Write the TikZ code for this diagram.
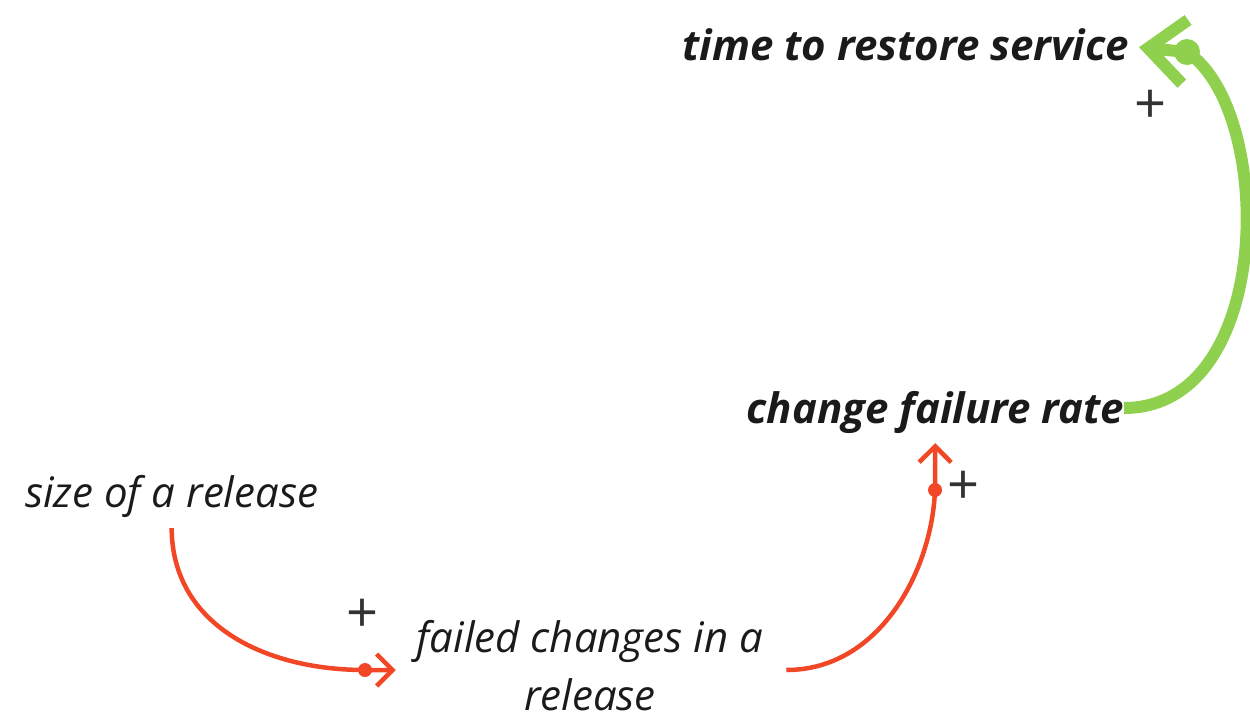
\documentclass[tikz,border=0pt]{standalone}
\usepackage{fontspec}
\setmainfont{Open Sans}
\usetikzlibrary{arrows.meta}
\definecolor{loopgreen}{HTML}{8FD14F}
\definecolor{linkred}{HTML}{F24726}
\definecolor{inktext}{HTML}{1A1A1A}
\definecolor{signgray}{HTML}{333333}
\begin{document}
\begin{tikzpicture}[x=1pt,y=-1pt,
  var/.style={inner sep=0pt, outer sep=0pt, text=inktext,
    font=\fontsize{42}{58}\selectfont\itshape},
  keyvar/.style={var, font=\fontsize{42}{58}\selectfont\bfseries\itshape},
  sign/.style={inner sep=0pt, text=signgray, font=\fontsize{56}{56}\selectfont},
  greenlink/.style={draw=loopgreen, line width=12pt,
    -{Straight Barb[sharp, length=37pt, width=64pt]}},
  redlink/.style={draw=linkred, line width=4.5pt,
    -{Straight Barb[sharp, length=16pt, width=32pt]}},
]
\useasboundingbox (0,0) rectangle (1250,723);

% variables
\node[keyvar, anchor=base east] (trs) at (1129,60) {time to restore service};
\node[keyvar, anchor=base east] (cfr) at (1124,423) {change failure rate};
\node[var, anchor=base west] (size) at (25,507) {size of a release};
\node[var, align=center, anchor=base] (failed) at (590,710) {failed changes in a\\release};

% polarity signs
\node[sign] (p1) at (1150,107) {+};
\node[sign] (p2) at (963,488) {+};
\node[sign] (p3) at (363,616) {+};

% link dots
\coordinate (gdot) at (1187,52);
\coordinate (rdot1) at (365,670);
\coordinate (rdot2) at (935,490);

% size of a release -> failed changes
\draw[redlink] ([yshift=-11pt]size.south) .. controls (172,625) and (265,670) .. (rdot1)
  -- ([xshift=-21pt]failed.west |- rdot1);
\fill[linkred] (rdot1) circle (7);

% failed changes -> change failure rate
\draw[redlink] ([xshift=23pt]failed.east |- rdot1) .. controls (880,670) and (932,570) .. (rdot2)
  -- ([yshift=-10pt]cfr.south);
\fill[linkred] (rdot2) circle (7);

% change failure rate -> time to restore service
\draw[greenlink] ([yshift=4pt]cfr.east) .. controls (1275,408) and (1275,110) .. (gdot)
  -- ([xshift=10pt,yshift=-3pt]trs.east);
\fill[loopgreen] (gdot) circle (13);
\end{tikzpicture}
\end{document}
